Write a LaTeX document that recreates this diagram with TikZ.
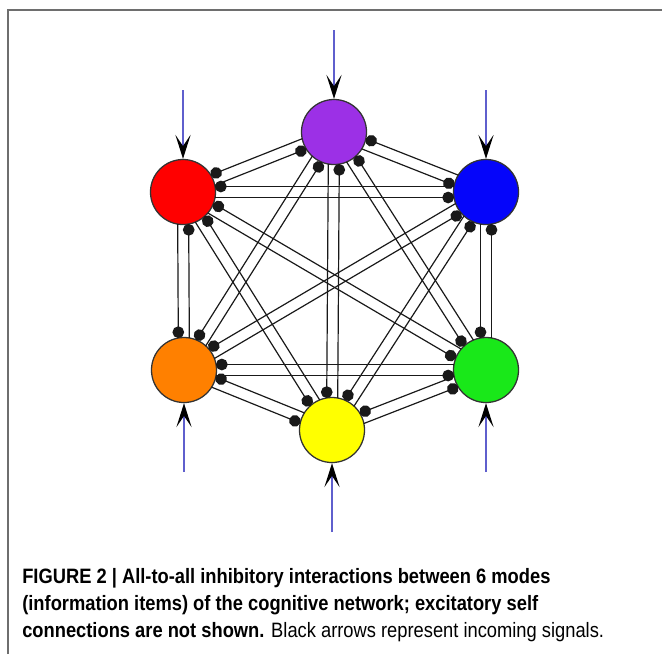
\documentclass[tikz,border=0pt]{standalone}
\usepackage{fontspec}
\usepackage{tikz}
\usetikzlibrary{arrows.meta, calc}
\newfontfamily\capfont{Liberation Sans}[FakeStretch=0.88]
\definecolor{modePurple}{RGB}{156,48,230}
\definecolor{modeRed}{RGB}{255,0,0}
\definecolor{modeBlue}{RGB}{5,5,250}
\definecolor{modeOrange}{RGB}{255,128,0}
\definecolor{modeGreen}{RGB}{25,232,25}
\definecolor{modeYellow}{RGB}{255,255,0}
\definecolor{signalBlue}{RGB}{95,95,205}
\definecolor{frameGray}{RGB}{110,110,110}

\begin{document}
\begin{tikzpicture}[x=0.025cm, y=-0.025cm,
  mode/.style={draw=black!80, circle, minimum size=1.625cm, inner sep=0pt, line width=0.9pt},
  inhib/.style={draw=black!90, line width=0.85pt, -{Circle[length=8.3pt]}, shorten <=0.8cm, shorten >=0.8cm},
  signal/.style={draw=signalBlue, line width=1.2pt, -{Stealth[color=black, length=0.6cm, width=0.38cm, inset=0.28cm]}}]
\useasboundingbox (0,0) rectangle (662,654);
\draw[frameGray, line width=1.2pt] (8,654) -- (8,10) -- (662,10);

% the six modes
\node[mode, fill=modePurple] (purple) at (334,132) {};
\node[mode, fill=modeRed] (red) at (183,192) {};
\node[mode, fill=modeBlue] (blue) at (486,192) {};
\node[mode, fill=modeOrange] (orange) at (184,370) {};
\node[mode, fill=modeGreen] (green) at (486,370) {};
\node[mode, fill=modeYellow] (yellow) at (332,430) {};

% all-to-all inhibition, one line each way
\foreach \a/\b in {purple/red, purple/blue, purple/orange, purple/green, purple/yellow,
                   red/blue, red/orange, red/green, red/yellow,
                   blue/orange, blue/green, blue/yellow,
                   orange/green, orange/yellow, green/yellow} {
  \draw[inhib] ($(\a.center)!0.1375cm!-90:(\b.center)$) -- ($(\b.center)!0.1375cm!90:(\a.center)$);
  \draw[inhib] ($(\b.center)!0.1375cm!-90:(\a.center)$) -- ($(\a.center)!0.1375cm!90:(\b.center)$);
}

% incoming signals
\coordinate (inPurple) at (334,30);
\coordinate (inRed) at (183,90);
\coordinate (inBlue) at (486,90);
\coordinate (inOrange) at (184,472);
\coordinate (inGreen) at (486,472);
\coordinate (inYellow) at (332,532);
\draw[signal] (inPurple) -- (purple);
\draw[signal] (inRed) -- (red);
\draw[signal] (inBlue) -- (blue);
\draw[signal] (inOrange) -- (orange);
\draw[signal] (inGreen) -- (green);
\draw[signal] (inYellow) -- (yellow);

\node[anchor=north west, align=left, inner sep=0pt, font=\capfont\fontsize{14.8}{19.2}\selectfont] (caption) at (22,568)
  {\textbf{FIGURE 2 | All-to-all inhibitory interactions between 6 modes}\\
   \textbf{(information items) of the cognitive network; excitatory self}\\
   \textbf{connections are not shown.} Black arrows represent incoming signals.};
\end{tikzpicture}
\end{document}
